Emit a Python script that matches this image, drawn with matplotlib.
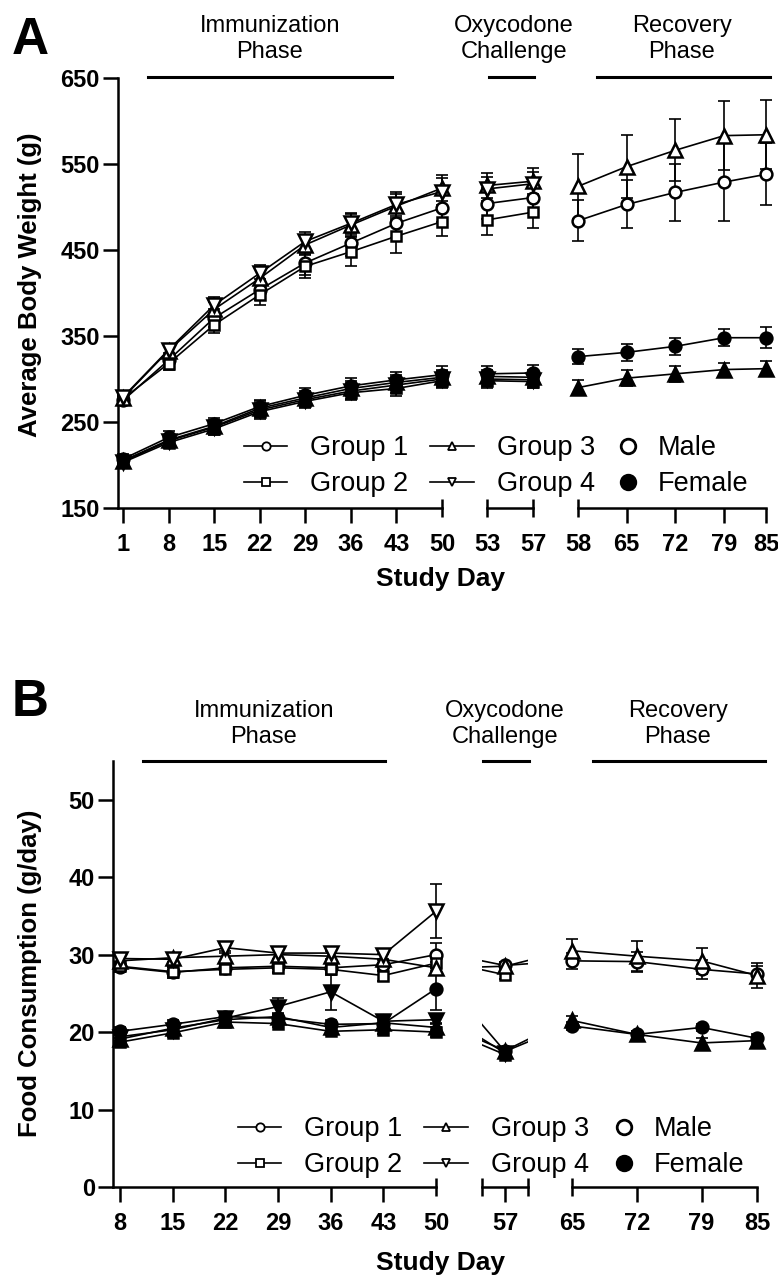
import matplotlib.pyplot as plt
import numpy as np
from matplotlib.lines import Line2D

nan = np.nan
plt.rcParams['font.family'] = ['Liberation Sans', 'DejaVu Sans']

# ---- panel A: body weight (g) ----
bw_days = [1, 8, 15, 22, 29, 36, 43, 50, 53, 57, 58, 65, 72, 79, 85]
bw_g1_m = [275, 322, 371, 404, 435, 458, 481, 499, 504, 511, 484, 503, 517, 529, 538]
bw_g2_m = [277, 318, 363, 398, 431, 448, 466, 483, 485, 494, nan, nan, nan, nan, nan]
bw_g3_m = [278, 333, 381, 417, 456, 479, 501, 522, 525, 530, 524, 547, 566, 583, 584]
bw_g4_m = [279, 334, 386, 423, 460, 481, 503, 518, 521, 527, nan, nan, nan, nan, nan]
bw_g1_m_sd = [5, 8, 10, 12, 14, 15, 17, 17, 18, 18, 24, 28, 33, 45, 36]
bw_g2_m_sd = [5, 7, 9, 12, 14, 17, 19, 17, 18, 18, nan, nan, nan, nan, nan]
bw_g3_m_sd = [5, 7, 9, 11, 12, 13, 14, 15, 15, 15, 38, 37, 36, 40, 40]
bw_g4_m_sd = [5, 7, 9, 10, 11, 12, 14, 16, 14, 14, nan, nan, nan, nan, nan]
bw_g1_f = [207, 232, 248, 268, 281, 292, 299, 305, 306, 307, 326, 331, 338, 348, 348]
bw_g2_f = [203, 226, 242, 262, 274, 284, 289, 298, 298, 297, nan, nan, nan, nan, nan]
bw_g3_f = [205, 229, 245, 266, 278, 289, 296, 302, 303, 302, 290, 301, 306, 311, 312]
bw_g4_f = [204, 228, 244, 264, 276, 286, 293, 300, 300, 299, nan, nan, nan, nan, nan]
bw_g1_f_sd = [6, 7, 7, 8, 9, 9, 9, 10, 9, 9, 9, 10, 10, 10, 12]
bw_g2_f_sd = [6, 6, 7, 8, 8, 9, 9, 9, 8, 8, nan, nan, nan, nan, nan]
bw_g3_f_sd = [6, 6, 7, 8, 8, 9, 9, 9, 8, 8, 9, 9, 9, 8, 9]
bw_g4_f_sd = [6, 6, 7, 8, 8, 9, 9, 9, 8, 8, nan, nan, nan, nan, nan]

# ---- panel B: food consumption (g/day) ----
fc_days = [8, 15, 22, 29, 36, 43, 50, 57, 65, 72, 79, 85]
fc_g1_m = [28.4, 27.7, 28.3, 28.5, 28.3, 28.7, 30.0, 28.6, 29.2, 29.1, 28.1, 27.5]
fc_g2_m = [28.5, 27.8, 28.1, 28.3, 28.1, 27.3, 28.9, 27.4, nan, nan, nan, nan]
fc_g3_m = [29.2, 29.6, 29.8, 30.0, 29.8, 29.4, 28.3, 28.5, 30.5, 29.8, 29.2, 27.3]
fc_g4_m = [29.5, 29.4, 30.9, 30.2, 30.2, 30.0, 35.6, nan, nan, nan, nan, nan]
fc_g1_m_sd = [0.6, 0.7, 0.7, 0.7, 0.8, 0.8, 1.5, 0.5, 1.0, 1.3, 1.2, 1.0]
fc_g2_m_sd = [0.6, 0.6, 0.6, 0.7, 0.7, 0.7, 1.0, 0.5, nan, nan, nan, nan]
fc_g3_m_sd = [0.6, 0.6, 0.7, 0.7, 0.7, 0.7, 0.8, 0.5, 1.5, 1.9, 1.7, 1.6]
fc_g4_m_sd = [0.6, 0.6, 0.7, 0.7, 0.7, 0.7, 3.5, nan, nan, nan, nan, nan]
fc_g1_f = [20.1, 21.0, 22.0, 21.8, 21.0, 21.1, 25.6, 17.5, 20.8, 19.7, 20.6, 19.2]
fc_g2_f = [18.7, 19.9, 21.3, 21.1, 20.1, 20.3, 20.0, 17.1, nan, nan, nan, nan]
fc_g3_f = [19.1, 20.5, 21.6, 22.0, 20.6, 21.2, 20.6, 17.6, 21.5, 19.7, 18.6, 18.9]
fc_g4_f = [19.4, 20.3, 21.8, 23.3, 25.2, 21.4, 21.6, 17.3, nan, nan, nan, nan]
fc_g1_f_sd = [0.5, 0.5, 0.5, 0.5, 0.5, 0.5, 2.7, 0.4, 0.5, 0.5, 0.5, 0.5]
fc_g2_f_sd = [0.5, 0.5, 0.5, 0.5, 0.5, 0.5, 0.6, 0.4, nan, nan, nan, nan]
fc_g3_f_sd = [0.5, 0.5, 0.5, 0.5, 0.5, 0.5, 0.6, 0.4, 0.6, 0.5, 0.6, 0.5]
fc_g4_f_sd = [0.5, 0.5, 0.5, 1.1, 2.4, 0.5, 0.6, 0.4, nan, nan, nan, nan]

group_labels = ['Group 1', 'Group 2', 'Group 3', 'Group 4']
group_markers = ['o', 's', '^', 'v']
marker_sizes = [8.5, 7.5, 9.5, 9.5]
phase_labels = ['Immunization\nPhase', 'Oxycodone\nChallenge', 'Recovery\nPhase']

W, H = 778, 1286
fig = plt.figure(figsize=(W / 100, H / 100), dpi=100)


def px_axes(x0, x1, ytop, ybot):
    return fig.add_axes([x0 / W, 1 - ybot / H, (x1 - x0) / W, (ybot - ytop) / H])


def draw_panel(ytop, ybot, ylim, yticks, segs, days, series):
    days = np.array(days, float)
    for i, (x0, x1, xlim, tick_out, tick_inout) in enumerate(segs):
        ax = px_axes(x0, x1, ytop, ybot)
        ax.patch.set_alpha(0)
        ax.set_xlim(xlim)
        ax.set_ylim(ylim)
        ax.spines['top'].set_visible(False)
        ax.spines['right'].set_visible(False)
        ax.spines['bottom'].set_linewidth(1.8)
        if i == 0:
            ax.spines['left'].set_linewidth(1.8)
            ax.set_yticks(yticks, [str(t) for t in yticks])
            ax.tick_params(axis='y', length=11, width=1.8, labelsize=17, pad=2)
        else:
            ax.spines['left'].set_visible(False)
            ax.set_yticks([])
        ax.set_xticks(tick_out, [str(t) for t in tick_out])
        ax.set_xticks(tick_inout, [str(t) if t in days else '' for t in tick_inout],
                      minor=True)
        ax.tick_params(axis='x', which='major', direction='out', length=11,
                       width=1.8, labelsize=17, pad=7)
        ax.tick_params(axis='x', which='minor', direction='inout', length=13,
                       width=1.8, labelsize=17, pad=11.5)
        for lab in ax.get_xticklabels(which='both') + ax.get_yticklabels():
            lab.set_fontweight('bold')

        inside = (days >= xlim[0] - 1e-6) & (days <= xlim[1] + 1e-6)
        for k, (vals, sd, mk, face, ms) in enumerate(series):
            v = np.array(vals, float)
            e = np.array(sd, float)
            ax.plot(days, v, '-', color='k', lw=1.2, zorder=2 + k * 0.01)
            d = days[inside]
            vi = v[inside]
            ei = e[inside]
            ok = ~np.isnan(vi)
            d, vi, ei = d[ok], vi[ok], ei[ok]
            ax.vlines(d, vi - ei, vi + ei, color='k', lw=1.2, zorder=2.5, clip_on=False)
            for yy in (vi + ei, vi - ei):
                ax.plot(d, yy, ls='none', marker='_', ms=8, mew=1.2, color='k',
                        zorder=2.5, clip_on=False)
            ax.plot(d, vi, ls='none', marker=mk, ms=ms, mfc=face, mec='k', mew=1.8,
                    zorder=3 + k * 0.01, clip_on=False)


def build_series(m_list, m_sd, f_list, f_sd):
    out = []
    for g in range(4):
        out.append((f_list[g], f_sd[g], group_markers[g], 'black', marker_sizes[g]))
    for g in range(4):
        out.append((m_list[g], m_sd[g], group_markers[g], 'white', marker_sizes[g]))
    return out


def phase_headers(xs, lines_x, y_text1, y_line):
    for cx, lab in zip(xs, phase_labels):
        fig.text(cx / W, 1 - y_text1 / H, lab, ha='center', va='top',
                 fontsize=17, linespacing=1.25)
    for x0, x1 in lines_x:
        fig.add_artist(Line2D([x0 / W, x1 / W], [1 - y_line / H] * 2, color='k', lw=2.2))


def legend(x_left, y_top, x_sex):
    hs = [Line2D([], [], color='k', lw=1.2, marker=m, ms=6, mfc='white', mec='k', mew=1.3)
          for m in group_markers]
    fig.legend(hs, group_labels, ncol=2, loc='upper left',
               bbox_to_anchor=(x_left / W, 1 - y_top / H), frameon=False,
               fontsize=19.5, handlelength=1.6, handletextpad=0.85, columnspacing=0.8,
               labelspacing=0.38, borderpad=0, borderaxespad=0)
    sx = [Line2D([], [], ls='none', marker='o', ms=10.5, mfc=c, mec='k', mew=2)
          for c in ['white', 'black']]
    fig.legend(sx, ['Male', 'Female'], loc='upper left',
               bbox_to_anchor=(x_sex / W, 1 - y_top / H), frameon=False,
               fontsize=19.5, handlelength=1.0, handletextpad=0.6,
               labelspacing=0.38, borderpad=0, borderaxespad=0)


# panel A
series_a = build_series([bw_g1_m, bw_g2_m, bw_g3_m, bw_g4_m],
                        [bw_g1_m_sd, bw_g2_m_sd, bw_g3_m_sd, bw_g4_m_sd],
                        [bw_g1_f, bw_g2_f, bw_g3_f, bw_g4_f],
                        [bw_g1_f_sd, bw_g2_f_sd, bw_g3_f_sd, bw_g4_f_sd])
segs_a = [(118, 442, (0.23, 50), [1, 8, 15, 22, 29, 36, 43], [50]),
          (487, 533, (53, 57), [], [53, 57]),
          (578, 766, (58, 85), [65, 72, 79, 85], [58])]
draw_panel(78, 508, (150, 650), [150, 250, 350, 450, 550, 650], segs_a, bw_days, series_a)
phase_headers([270, 514, 682], [(148, 392), (489, 534), (597, 770)], 15, 77)
fig.text(30 / W, 1 - 285 / H, 'Average Body Weight (g)', rotation=90, ha='center',
         va='center', fontsize=18.5, fontweight='bold')
fig.text(440 / W, 1 - 579 / H, 'Study Day', ha='center', va='center',
         fontsize=19, fontweight='bold')
fig.text(30 / W, 1 - 40 / H, 'A', ha='center', va='center', fontsize=37, fontweight='bold')
legend(244, 435, 614)

# panel B
series_b = build_series([fc_g1_m, fc_g2_m, fc_g3_m, fc_g4_m],
                        [fc_g1_m_sd, fc_g2_m_sd, fc_g3_m_sd, fc_g4_m_sd],
                        [fc_g1_f, fc_g2_f, fc_g3_f, fc_g4_f],
                        [fc_g1_f_sd, fc_g2_f_sd, fc_g3_f_sd, fc_g4_f_sd])
segs_b = [(113, 436, (7.07, 50), [8, 15, 22, 29, 36, 43], [50]),
          (482, 528, (54, 60), [57], [54, 60]),
          (572, 757, (65, 85), [72, 79, 85], [65])]
draw_panel(761, 1187, (0, 55), [0, 10, 20, 30, 40, 50], segs_b, fc_days, series_b)
phase_headers([264, 505, 678], [(143, 385), (483, 529), (593, 765)], 700, 761)
fig.text(30 / W, 1 - 973 / H, 'Food Consumption (g/day)', rotation=90, ha='center',
         va='center', fontsize=18.5, fontweight='bold')
fig.text(440 / W, 1 - 1263 / H, 'Study Day', ha='center', va='center',
         fontsize=19, fontweight='bold')
fig.text(30 / W, 1 - 702 / H, 'B', ha='center', va='center', fontsize=37, fontweight='bold')
legend(238, 1116, 610)

fig.savefig('out.png', dpi=100)
